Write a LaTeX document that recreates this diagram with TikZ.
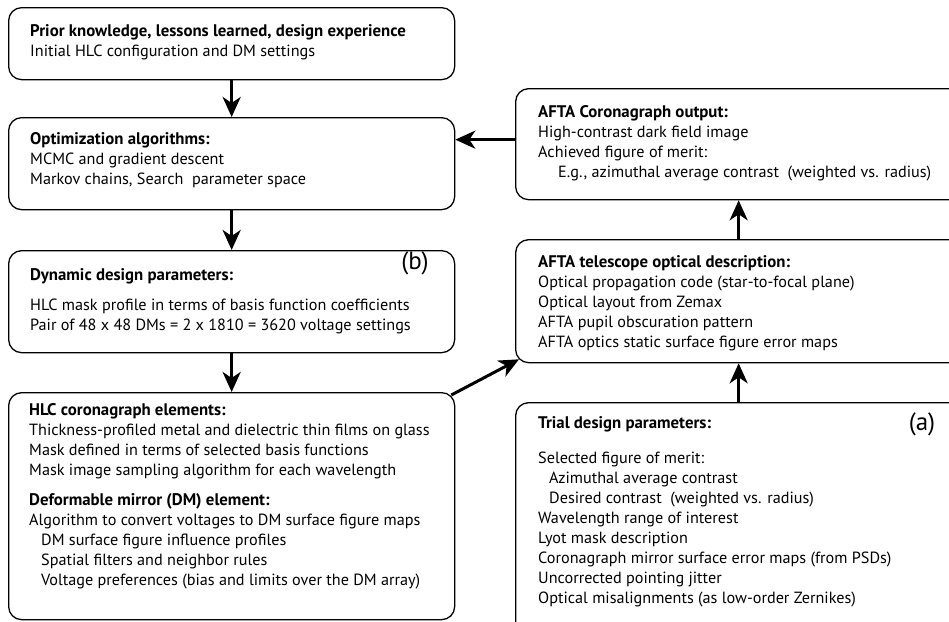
\documentclass[tikz,border=0pt]{standalone}
\usepackage{fontspec}
\setmainfont{PT Sans}
\usetikzlibrary{positioning, arrows.meta}
\tikzset{
    box/.style={draw, line width=1.3pt, rounded corners=13pt, anchor=north west, inner sep=0pt}, % the rounded frames
    txt/.style={anchor=base west, inner sep=0pt, font=\fontsize{16.2}{20}\selectfont}, % text blocks, first baseline at the coordinate
    tag/.style={inner sep=0pt, font=\fontsize{25}{25}\selectfont}, % the (a) and (b) marks
    flow/.style={-{Stealth[length=20pt, width=18pt, inset=6pt]}, line width=3pt}, % thick arrows
}
\newcommand{\rows}[1]{\begin{tabular}[t]{@{}l@{}}#1\end{tabular}}
\newcommand{\head}[1]{{\fontsize{16.8}{20}\selectfont\bfseries #1}}

\begin{document}
\begin{tikzpicture}[x=1pt, y=-1pt]
    \clip (0,0) rectangle (949,621);
    % left column
    \node[box, minimum width=446pt, minimum height=72pt] (prior) at (8,7) {};
    \node[box, minimum width=446pt, minimum height=92pt] (optim) at (8,117) {};
    \node[box, minimum width=446pt, minimum height=102pt] (dynpar) at (8,250) {};
    \node[box, minimum width=446pt, minimum height=227pt] (hlc) at (8,392) {};
    % right column
    \node[box, minimum width=446pt, minimum height=111pt] (output) at (515,88) {};
    \node[box, minimum width=446pt, minimum height=123pt] (telescope) at (515,239) {};
    \node[box, minimum width=446pt, minimum height=240pt] (trial) at (515,402) {};

    \node[txt] (priortxt) at (30,36) {\rows{\head{Prior knowledge, lessons learned, design experience}\\
        Initial HLC configuration and DM settings}};
    \node[txt] (optimtxt) at (30,144) {\rows{\head{Optimization algorithms:}\\
        MCMC and gradient descent\\
        Markov chains, Search\ \ parameter space}};
    \node[txt] (dynpartxt) at (30,280) {\rows{\head{Dynamic design parameters:}\\[10pt]
        HLC mask profile in terms of basis function coefficients\\
        Pair of 48 x 48 DMs = 2 x 1810 = 3620 voltage settings}};
    \node[tag] (tagb) at (415,263) {(b)};
    \node[txt] (hlctxt) at (29,415) {\rows{\head{HLC coronagraph elements:}\\
        Thickness-profiled metal and dielectric thin films on glass\\
        Mask defined in terms of selected basis functions\\
        Mask image sampling algorithm for each wavelength\\[10pt]
        \head{Deformable mirror (DM) element:}\\
        Algorithm to convert voltages to DM surface figure maps\\
        \hspace*{12pt}DM surface figure influence profiles\\
        \hspace*{12pt}Spatial filters and neighbor rules\\
        \hspace*{12pt}Voltage preferences (bias and limits over the DM array)}};

    \node[txt] (outputtxt) at (538,117) {\rows{\head{AFTA Coronagraph output:}\\
        High-contrast dark field image\\
        Achieved figure of merit:\\
        \hspace*{20pt}E.g., azimuthal average contrast\ \ (weighted vs. radius)}};
    \node[txt] (telescopetxt) at (538,267) {\rows{\head{AFTA telescope optical description:}\\
        Optical propagation code (star-to-focal plane)\\
        Optical layout from Zemax\\
        AFTA pupil obscuration pattern\\
        AFTA optics static surface figure error maps}};
    \node[txt] (trialtxt) at (538,428) {\rows{\head{Trial design parameters:}\\[15pt]
        Selected figure of merit:\\
        \hspace*{11pt}Azimuthal average contrast\\
        \hspace*{11pt}Desired contrast\ \ (weighted vs. radius)\\
        Wavelength range of interest\\
        Lyot mask description\\
        Coronagraph mirror surface error maps (from PSDs)\\
        Uncorrected pointing jitter\\
        Optical misalignments (as low-order Zernikes)}};
    \node[tag] (taga) at (922,424) {(a)};

    % arrows
    \draw[flow] (prior) -- (optim);
    \draw[flow] (optim) -- (dynpar);
    \draw[flow] (dynpar) -- (hlc);
    \draw[flow] ([shift={(-4,3)}]hlc.north east) -- ([shift={(4,-4)}]telescope.south west);
    \draw[flow] (trial) -- (telescope);
    \draw[flow] (telescope) -- (output);
    \draw[flow] ([yshift=4.5pt]output.west) -- ([yshift=4.5pt]output.west -| optim.east);
\end{tikzpicture}
\end{document}
